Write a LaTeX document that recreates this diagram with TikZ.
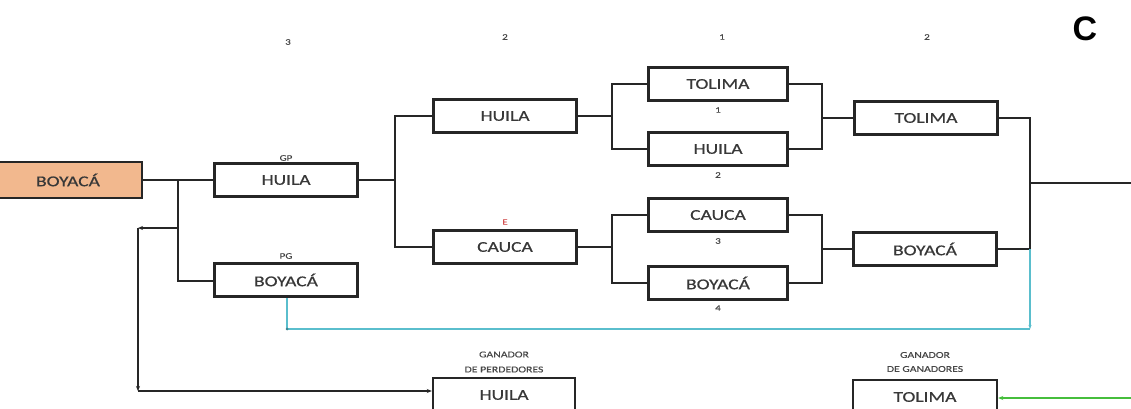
\documentclass[tikz,border=0pt]{standalone}
\usepackage{fontspec}
\setmainfont{Carlito}
\newfontfamily\wideface[FakeStretch=1.3,FakeBold=0.6]{Carlito}
\newfontfamily\widesmall[FakeStretch=1.3,FakeBold=0.3]{Carlito}
\usetikzlibrary{arrows.meta}
\definecolor{orangefill}{RGB}{242,184,142}
\definecolor{cyanline}{RGB}{90,190,205}
\definecolor{greenline}{RGB}{70,190,60}
\definecolor{redlbl}{RGB}{210,80,80}
\begin{document}
\begin{tikzpicture}[x=1pt,y=-1pt,
  teambox/.style={draw=black!85,line width=2.4pt,minimum width=143pt,minimum height=33pt,inner sep=0pt,
    font=\wideface\fontsize{15}{15}\selectfont,text=black!78},
  tinylbl/.style={font=\widesmall\fontsize{8.5}{9}\selectfont,text=black!72,inner sep=0pt},
  link/.style={draw=black!85,line width=1.8pt},
  smalltip/.style={-{Stealth[length=5pt,width=4pt]}}
]
\useasboundingbox (0,0) rectangle (1131,409);
% column 0
\node[teambox,fill=orangefill,minimum width=148pt,minimum height=36pt] (boy0) at (68,180) {BOYACÁ};
% column 1
\node[teambox] (gp) at (286,180) {HUILA};
\node[teambox] (pg) at (286,280) {BOYACÁ};
\node[tinylbl] (gpl) at (286,158) {GP};
\node[tinylbl] (pgl) at (286,256) {PG};
% column 2
\node[teambox] (h2) at (505,116) {HUILA};
\node[teambox] (c2) at (505,247) {CAUCA};
\node[tinylbl,text=redlbl] (el) at (505,222) {E};
% column 3
\node[teambox,minimum width=139pt] (t3) at (718,84) {TOLIMA};
\node[teambox,minimum width=139pt] (h3) at (718,149) {HUILA};
\node[teambox,minimum width=139pt] (c3) at (718,215) {CAUCA};
\node[teambox,minimum width=139pt] (b3) at (718,283) {BOYACÁ};
\node[tinylbl] (n1) at (718,110) {1};
\node[tinylbl] (n2) at (718,175) {2};
\node[tinylbl] (n3) at (718,241) {3};
\node[tinylbl] (n4) at (718,308) {4};
% column 4
\node[teambox] (t4) at (926,118) {TOLIMA};
\node[teambox] (b4) at (925,249) {BOYACÁ};
% bottom winners
\node[teambox,minimum width=142pt,minimum height=34pt] (hp) at (504,395) {HUILA};
\node[tinylbl,align=center,font=\widesmall\fontsize{9}{15}\selectfont] (hpl) at (504,362) {GANADOR\\DE PERDEDORES};
\node[teambox,minimum width=144pt,minimum height=34pt] (tg) at (925,397) {TOLIMA};
\node[tinylbl,align=center,font=\widesmall\fontsize{9}{14}\selectfont] (tgl) at (925,362) {GANADOR\\DE GANADORES};
% round numbers
\node[tinylbl] (r3) at (288,42) {3};
\node[tinylbl] (r2a) at (505,37) {2};
\node[tinylbl] (r1) at (722,37) {1};
\node[tinylbl] (r2b) at (927,37) {2};
\node[inner sep=0pt] (cl) at (1085,29) {\fontspec{Liberation Sans}\bfseries\fontsize{34}{34}\selectfont C};
% coordinates
\coordinate (j0) at (178,180);
\coordinate (j0b) at (178,281);
\coordinate (j0m) at (178,228);
\coordinate (lA) at (138,228);
\coordinate (lB) at (138,391);
\coordinate (j1) at (395,180);
\coordinate (j1a) at (395,116);
\coordinate (j1b) at (395,247);
\coordinate (j2t) at (612,116);
\coordinate (j2ta) at (612,84);
\coordinate (j2tb) at (612,149);
\coordinate (j2b) at (612,247);
\coordinate (j2ba) at (612,215);
\coordinate (j2bb) at (612,283);
\coordinate (j3t) at (822,118);
\coordinate (j3ta) at (822,84);
\coordinate (j3tb) at (822,149);
\coordinate (j3b) at (822,249);
\coordinate (j3ba) at (822,215);
\coordinate (j3bb) at (822,283);
\coordinate (j4a) at (1030,118);
\coordinate (j4b) at (1030,249);
\coordinate (j4) at (1030,183);
\coordinate (rend) at (1131,183);
\coordinate (cy1) at (1030,329);
\coordinate (cy2) at (287,329);
\coordinate (gr) at (1131,398);
% connectors
\draw[link] (boy0.east) -- (gp.west);
\draw[link] (j0) -- (j0b) -- (pg.west |- j0b);
\draw[link,smalltip] (j0m) -- (lA);
\draw[link,smalltip] (lA) -- (lB);
\draw[link,smalltip] (lB) -- (hp.west |- lB);
\draw[link] (gp.east) -- (j1);
\draw[link] (h2.west) -- (j1a) -- (j1b) -- (c2.west);
\draw[link] (h2.east) -- (j2t);
\draw[link] (t3.west) -- (j2ta) -- (j2tb) -- (h3.west);
\draw[link] (c2.east) -- (j2b);
\draw[link] (c3.west) -- (j2ba) -- (j2bb) -- (b3.west);
\draw[link] (t3.east) -- (j3ta) -- (j3tb) -- (h3.east);
\draw[link] (j3t) -- (t4.west);
\draw[link] (c3.east) -- (j3ba) -- (j3bb) -- (b3.east);
\draw[link] (j3b) -- (b4.west);
\draw[link] (t4.east) -- (j4a) -- (j4b) -- (b4.east);
\draw[link] (j4) -- (rend);
\draw[draw=cyanline,line width=1.3pt,-{Stealth[length=4pt,width=3pt]}] (j4b) -- (cy1);
\draw[draw=cyanline,line width=1.3pt] (cy1) -- (cy2) -- (pg.south -| cy2);
\fill[cyanline!70!black] (cy2) circle (1.5pt);
\draw[draw=greenline,line width=1.6pt,-{Stealth[length=5pt,width=4pt]}] (gr) -- (tg.east |- gr);
\end{tikzpicture}
\end{document}
